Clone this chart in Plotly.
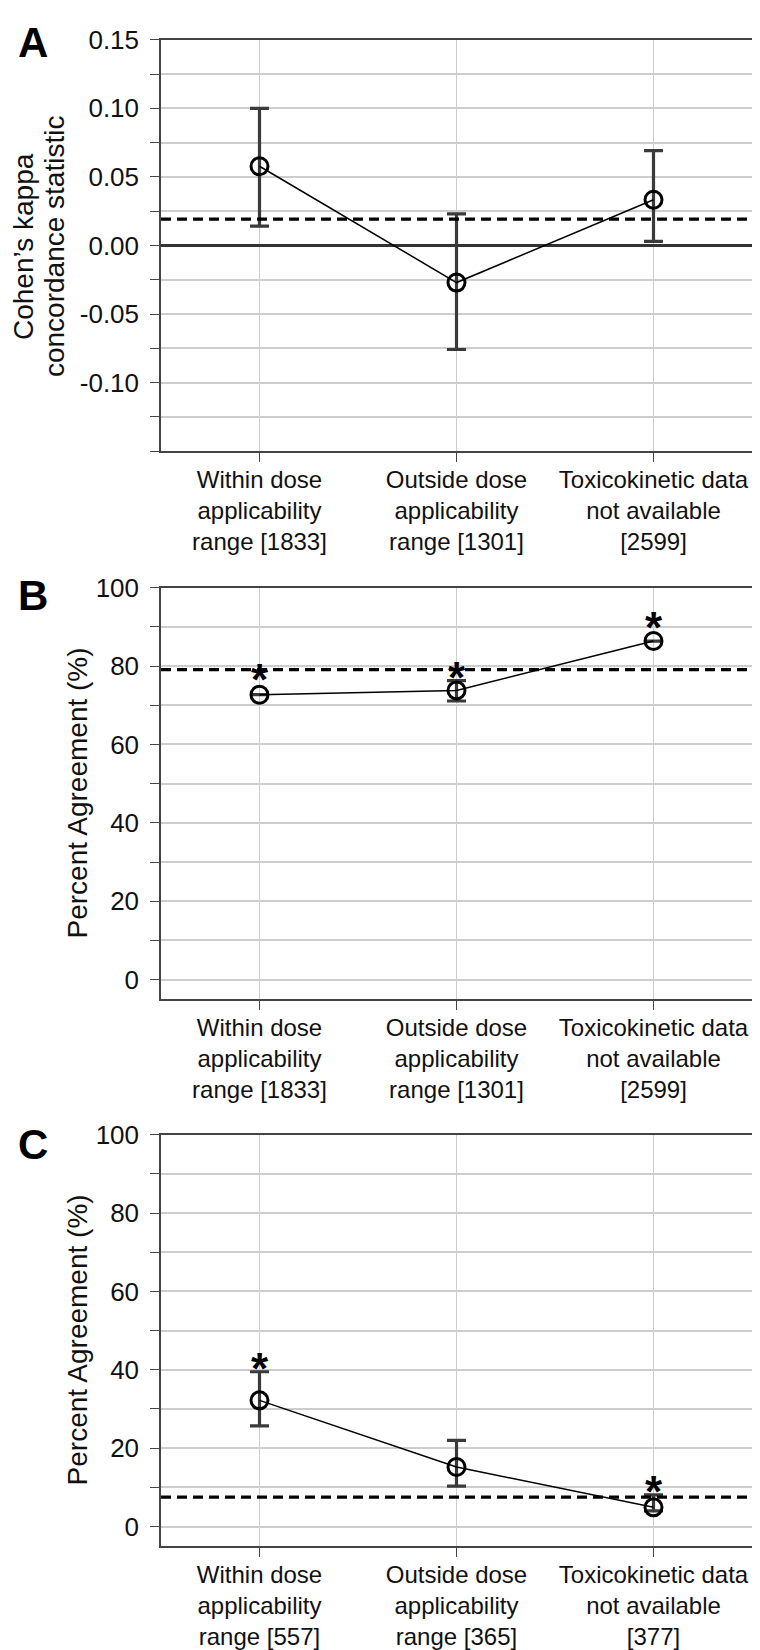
import plotly.graph_objects as go

# ---------------- data ----------------
categories_ab = ["Within dose<br>applicability<br>range [1833]",
                 "Outside dose<br>applicability<br>range [1301]",
                 "Toxicokinetic data<br>not available<br>[2599]"]
categories_c = ["Within dose<br>applicability<br>range [557]",
                "Outside dose<br>applicability<br>range [365]",
                "Toxicokinetic data<br>not available<br>[377]"]

kappa = [0.0578, -0.027, 0.0334]
kappa_upper = [0.100, 0.0231, 0.0692]
kappa_lower = [0.0141, -0.0758, 0.0031]
kappa_ref = 0.0193

agree_b = [72.7, 73.8, 86.4]
agree_b_upper = [None, 76.3, None]
agree_b_lower = [None, 71.1, None]
agree_b_ref = 79.1
star_b = [True, True, True]
star_b_y = [79.1, 79.6, 92.4]

agree_c = [32.2, 15.2, 4.9]
agree_c_upper = [39.5, 22.0, 8.1]
agree_c_lower = [25.7, 10.3, 4.0]
agree_c_ref = 7.5
star_c = [True, False, True]
star_c_y = [42.8, None, 11.4]

# ---------------- figure ----------------
# page body has an 8px margin, so the figure is 8px smaller and all positions are shifted by 8px
OFF = 8
W, H = 760 - OFF, 1650 - OFF
FONT = "Liberation Sans, Arial, sans-serif"
fig = go.Figure()

xdom = [(161 - OFF) / W, (752 - OFF) / W]
panels = [(25, 441), (579, 995), (1132, 1548)]  # (top, bottom) in page px


def py(v):  # page y px -> paper fraction
    return (H - (v - OFF)) / H


def px(v):  # page x px -> paper fraction
    return (v - OFF) / W


def add_panel(idx, vals, upper, lower, ref):
    xa = "x" if idx == 1 else f"x{idx}"
    ya = "y" if idx == 1 else f"y{idx}"
    xs = [0, 1, 2]
    plus = [None if u is None else u - v for u, v in zip(upper, vals)]
    minus = [None if l is None else v - l for l, v in zip(lower, vals)]
    fig.add_trace(go.Scatter(
        x=xs, y=vals, mode="markers", xaxis=xa, yaxis=ya,
        marker=dict(size=1, color="rgba(0,0,0,0)"),
        error_y=dict(type="data", symmetric=False, array=plus, arrayminus=minus,
                     color="#3a3a3a", thickness=3.2, width=9.5),
        showlegend=False, hoverinfo="skip"))
    fig.add_trace(go.Scatter(
        x=xs, y=vals, mode="lines+markers", xaxis=xa, yaxis=ya,
        line=dict(color="black", width=1.5),
        marker=dict(symbol="circle-open", size=17, color="black",
                    line=dict(width=3, color="black")),
        showlegend=False))
    fig.add_shape(type="line", xref=f"{xa} domain", yref=ya, x0=0, x1=1,
                  y0=ref, y1=ref, line=dict(color="black", width=3.2, dash="10px,6px"))


add_panel(1, kappa, kappa_upper, kappa_lower, kappa_ref)
add_panel(2, agree_b, agree_b_upper, agree_b_lower, agree_b_ref)
add_panel(3, agree_c, agree_c_upper, agree_c_lower, agree_c_ref)

grid = "#cdcdcd"
axis_col = "#444444"
tickfont = dict(family=FONT, size=26, color="#111111")
xtickfont = dict(family=FONT, size=24, color="#111111")

for i, (top, bot) in enumerate(panels, start=1):
    cats = categories_c if i == 3 else categories_ab
    xkey = "xaxis" if i == 1 else f"xaxis{i}"
    ykey = "yaxis" if i == 1 else f"yaxis{i}"
    yname = "y" if i == 1 else f"y{i}"
    xname = "x" if i == 1 else f"x{i}"
    fig.layout[xkey] = dict(
        domain=xdom, anchor=yname, range=[-0.5, 2.5],
        tickmode="array", tickvals=[0, 1, 2], ticktext=cats,
        ticks="outside", ticklen=9, tickwidth=1.2, tickcolor=axis_col,
        showgrid=True, gridcolor=grid, gridwidth=1,
        showline=True, mirror=True, linecolor=axis_col, linewidth=1.5,
        zeroline=False, tickfont=xtickfont, fixedrange=True, ticklabelstandoff=-3)
    common_y = dict(
        domain=[py(bot), py(top)], anchor=xname,
        ticks="outside", ticklen=9, tickwidth=1.2, tickcolor=axis_col,
        showgrid=True, gridcolor=grid, gridwidth=1.5,
        showline=True, mirror=True, linecolor=axis_col, linewidth=1.5,
        tickfont=tickfont, fixedrange=True, ticklabelstandoff=6)
    if i == 1:
        yv = [-0.10, -0.05, 0.0, 0.05, 0.10, 0.15]
        yt = ["-0.10", "-0.05", "0.00", "0.05", "0.10", "0.15"]
        fig.layout[ykey] = dict(
            range=[-0.15, 0.15], tickmode="array", tickvals=yv, ticktext=yt,
            minor=dict(dtick=0.025, tick0=0, ticks="outside", ticklen=9,
                       tickcolor=axis_col, showgrid=True, gridcolor=grid, gridwidth=1.5),
            zeroline=True, zerolinecolor="#333333", zerolinewidth=2.5, **common_y)
    else:
        fig.layout[ykey] = dict(
            range=[-5, 100], tickmode="array", tickvals=[0, 20, 40, 60, 80, 100],
            ticktext=["0", "20", "40", "60", "80", "100"],
            minor=dict(dtick=10, tick0=0, ticks="outside", ticklen=9,
                       tickcolor=axis_col, showgrid=True, gridcolor=grid, gridwidth=1.5),
            zeroline=False, **common_y)

annotations = []
# panel letters
for letter, cy in zip(["A", "B", "C"], [28, 587, 1142]):
    annotations.append(dict(
        text=f"<b>{letter}</b>", xref="paper", yref="paper",
        x=px(32.5), y=py(cy), xanchor="center", yanchor="middle",
        showarrow=False, font=dict(family=FONT, size=42, color="black")))

# y-axis titles
tfont = dict(family=FONT, size=28, color="#111111")
annotations.append(dict(text="Cohen’s kappa", xref="paper", yref="paper",
                        x=px(23.5), y=py(234), xanchor="center", yanchor="middle",
                        textangle=-90, showarrow=False, font=tfont))
annotations.append(dict(text="concordance statistic", xref="paper", yref="paper",
                        x=px(54.5), y=py(234), xanchor="center", yanchor="middle",
                        textangle=-90, showarrow=False, font=tfont))
for (top, bot) in panels[1:]:
    annotations.append(dict(text="Percent Agreement (%)", xref="paper", yref="paper",
                            x=px(77), y=py((top + bot) / 2), xanchor="center",
                            yanchor="middle", textangle=-90, showarrow=False, font=tfont))

# significance stars
for idx, flags, ys in [(2, star_b, star_b_y), (3, star_c, star_c_y)]:
    for j, (f, yy) in enumerate(zip(flags, ys)):
        if f:
            annotations.append(dict(text="<b>*</b>", x=j, y=yy, xref=f"x{idx}", yref=f"y{idx}",
                                    xanchor="center", yanchor="middle", yshift=-10,
                                    showarrow=False,
                                    font=dict(family=FONT, size=44, color="black")))

fig.update_layout(
    width=W, height=H, margin=dict(l=0, r=0, t=0, b=0),
    paper_bgcolor="white", plot_bgcolor="white",
    annotations=annotations, showlegend=False,
    font=dict(family=FONT, color="#111111"))

fig.write_html("out.html")
